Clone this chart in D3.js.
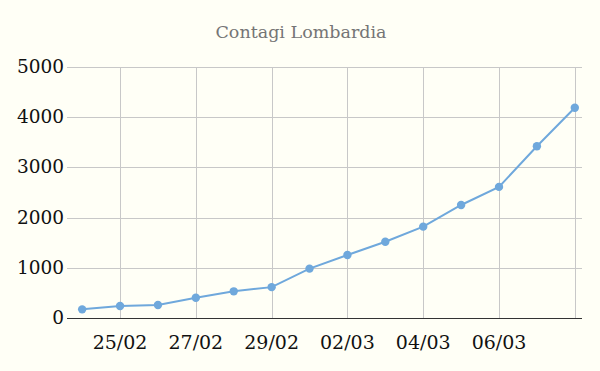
<!DOCTYPE html>
<html>
<head>
<meta charset="utf-8">
<script src="https://cdn.jsdelivr.net/npm/d3@7"></script>
<style>
  body { margin: 0; background: #fffff6; }
  svg { display: block; }
  text { font-family: "DejaVu Serif", Georgia, serif; }
</style>
</head>
<body>
<svg id="viz"></svg>
<script>
const width = 600, height = 371;

// dati
const dates = ["24/02", "25/02", "26/02", "27/02", "28/02", "29/02", "01/03",
               "02/03", "03/03", "04/03", "05/03", "06/03", "07/03", "08/03"];
const contagi = [172, 240, 258, 403, 531, 615, 984, 1254, 1520, 1820, 2251, 2612, 3420, 4189];
const yTicks = [0, 1000, 2000, 3000, 4000, 5000];
const xLabels = ["25/02", "27/02", "29/02", "02/03", "04/03", "06/03"];
const xGrid = ["25/02", "27/02", "29/02", "02/03", "04/03", "06/03", "08/03"];

const svg = d3.select("#viz")
  .attr("width", width)
  .attr("height", height);

svg.append("rect")
  .attr("width", width)
  .attr("height", height)
  .attr("fill", "#fffff6");

const mLeft = 67, mRight = 582, mTop = 67, mBottom = 318;

const x = d3.scaleLinear().domain([-0.4, 13.19]).range([mLeft, mRight]);
const y = d3.scaleLinear().domain([0, 5000]).range([mBottom, mTop]);

svg.append("text")
  .attr("x", 301)
  .attr("y", 38)
  .attr("text-anchor", "middle")
  .attr("fill", "#757575")
  .attr("font-size", "17.5px")
  .text("Contagi Lombardia");

// griglia orizzontale
svg.selectAll("line.hgrid")
  .data(yTicks)
  .enter().append("line")
  .attr("class", "hgrid")
  .attr("x1", mLeft).attr("x2", mRight)
  .attr("y1", d => Math.round(y(d)) + 0.5)
  .attr("y2", d => Math.round(y(d)) + 0.5)
  .attr("stroke", d => d === 0 ? "#333" : "#c8c8c8")
  .attr("stroke-width", 1);

// griglia verticale
svg.selectAll("line.vgrid")
  .data(xGrid)
  .enter().append("line")
  .attr("class", "vgrid")
  .attr("x1", d => Math.round(x(dates.indexOf(d))) + 0.5)
  .attr("x2", d => Math.round(x(dates.indexOf(d))) + 0.5)
  .attr("y1", mTop).attr("y2", mBottom)
  .attr("stroke", "#c8c8c8")
  .attr("stroke-width", 1);

// etichette asse y
svg.selectAll("text.ytick")
  .data(yTicks)
  .enter().append("text")
  .attr("class", "ytick")
  .attr("x", 64)
  .attr("y", d => y(d) + 6)
  .attr("text-anchor", "end")
  .attr("font-size", "18.5px")
  .attr("fill", "#111")
  .text(d => d);

// etichette asse x
svg.selectAll("text.xtick")
  .data(xLabels)
  .enter().append("text")
  .attr("class", "xtick")
  .attr("x", d => x(dates.indexOf(d)))
  .attr("y", 349)
  .attr("text-anchor", "middle")
  .attr("font-size", "19px")
  .attr("fill", "#111")
  .text(d => d);

const line = d3.line()
  .x((d, i) => x(i))
  .y(d => y(d));

svg.append("path")
  .datum(contagi)
  .attr("d", line)
  .attr("fill", "none")
  .attr("stroke", "#6fa8dc")
  .attr("stroke-width", 2);

svg.selectAll("circle")
  .data(contagi)
  .enter().append("circle")
  .attr("cx", (d, i) => x(i))
  .attr("cy", d => y(d))
  .attr("r", 4.2)
  .attr("fill", "#6fa8dc");
</script>
</body>
</html>
